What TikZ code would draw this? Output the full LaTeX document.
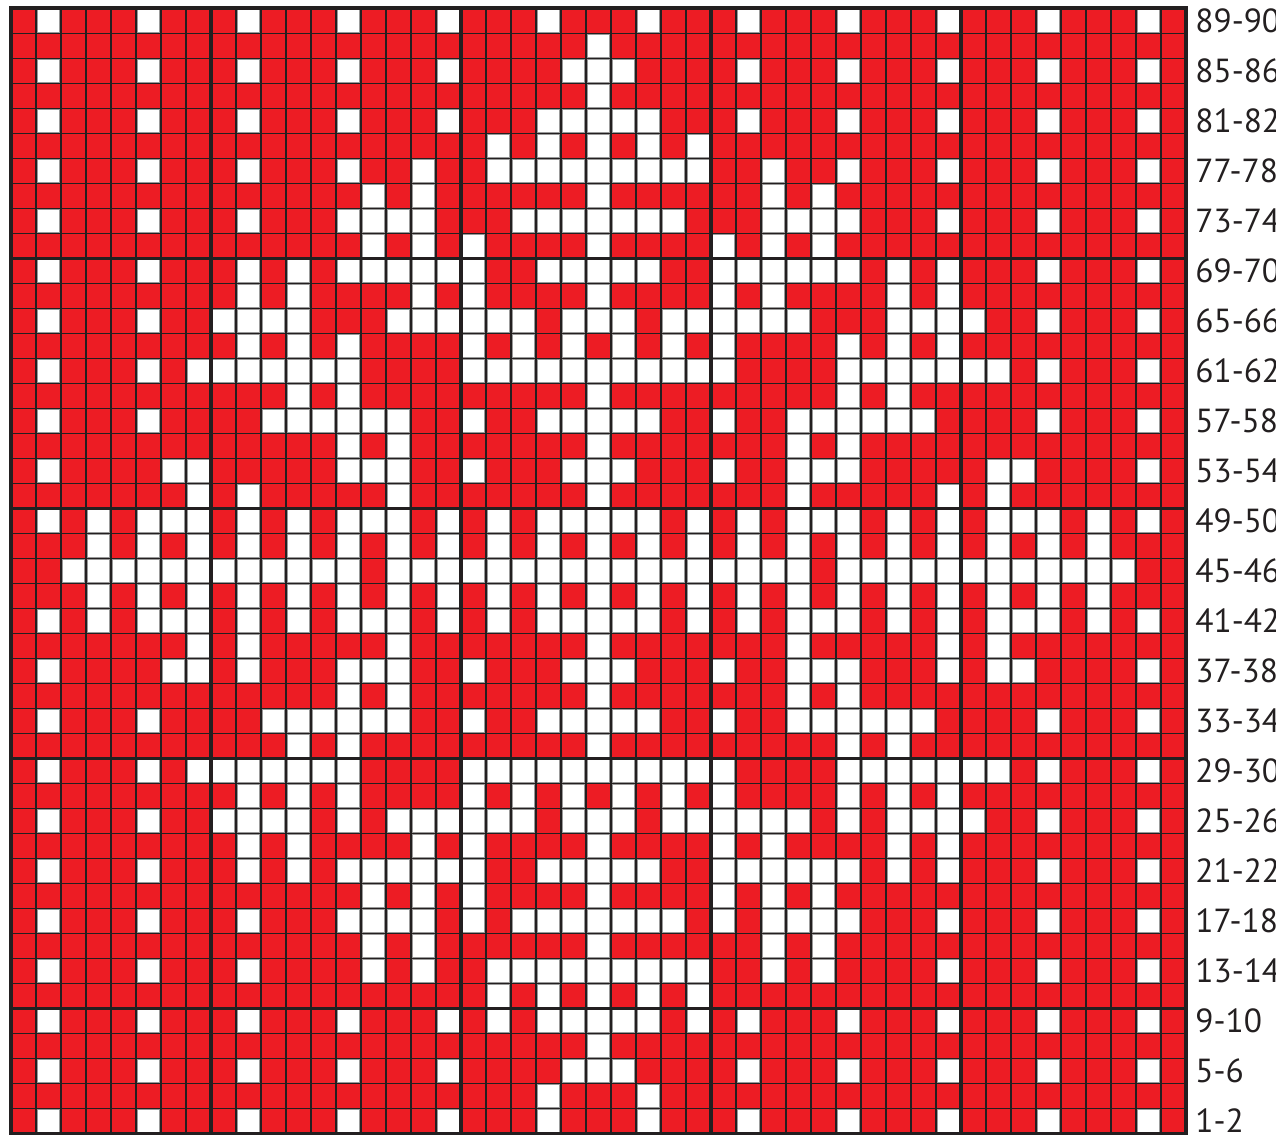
\documentclass[tikz,border=0pt]{standalone}
\usepackage{fontspec}
\setmainfont{PT Sans}
\usepackage{xcolor}
\definecolor{chartred}{HTML}{ED1C24}
\definecolor{chartline}{HTML}{231F20}

\begin{document}
\begin{tikzpicture}[x=0.5cm, y=-0.5cm,
  thinrule/.style={chartline, line width=0.8pt},
  thickrule/.style={chartline, line width=2pt},
  rowlabel/.style={anchor=west, inner sep=0pt, text=chartline, font=\fontsize{19}{21}\selectfont}]
  \useasboundingbox (-0.44,-0.33) rectangle (50.6,45.03);
  \fill[chartred] (0,0) rectangle (47,45);

  % white stitches, row by row from the top
  \foreach \r/\cs in {
    0/{1,5,9,13,17,21,25,29,33,37,41,45},
    1/{23},
    2/{1,5,9,13,17,22,23,24,29,33,37,41,45},
    3/{23},
    4/{1,5,9,13,17,21,22,23,24,25,29,33,37,41,45},
    5/{19,21,23,25,27},
    6/{1,5,9,13,16,19,20,21,22,23,24,25,26,27,30,33,37,41,45},
    7/{14,16,23,30,32},
    8/{1,5,9,13,14,15,16,20,21,22,23,24,25,26,30,31,32,33,37,41,45},
    9/{14,16,18,23,28,30,32},
    10/{1,5,9,11,13,14,15,16,17,18,21,22,23,24,25,28,29,30,31,32,33,35,37,41,45},
    11/{9,11,16,18,23,28,30,35,37},
    12/{1,5,8,9,10,11,15,16,17,18,19,20,22,23,24,26,27,28,29,30,31,35,36,37,38,41,45},
    13/{9,11,13,18,20,22,24,26,28,33,35,37},
    14/{1,5,7,8,9,10,11,12,13,18,19,20,21,22,23,24,25,26,27,28,33,34,35,36,37,38,39,41,45},
    15/{11,13,23,33,35},
    16/{1,5,10,11,12,13,14,15,18,21,22,23,24,25,28,31,32,33,34,35,36,41,45},
    17/{13,15,23,31,33},
    18/{1,6,7,13,14,15,18,22,23,24,28,31,32,33,39,40,45},
    19/{7,9,15,23,31,37,39},
    20/{1,3,5,6,7,9,11,13,14,15,17,19,21,22,23,24,25,27,29,31,32,33,35,37,39,40,41,43,45},
    21/{3,5,7,9,11,13,15,17,19,21,23,25,27,29,31,33,35,37,39,41,43},
    22/{2,3,4,5,6,7,8,9,10,11,12,13,15,16,17,18,19,20,21,22,23,24,25,26,27,28,29,30,31,33,34,35,36,37,38,39,40,41,42,43,44},
    23/{3,5,7,9,11,13,15,17,19,21,23,25,27,29,31,33,35,37,39,41,43},
    24/{1,3,5,6,7,9,11,13,14,15,17,19,21,22,23,24,25,27,29,31,32,33,35,37,39,40,41,43,45},
    25/{7,9,15,23,31,37,39},
    26/{1,6,7,9,13,14,15,18,22,23,24,28,31,32,33,37,39,40,45},
    27/{13,15,23,31,33},
    28/{1,5,10,11,12,13,14,15,18,21,22,23,24,25,28,31,32,33,34,35,36,41,45},
    29/{11,13,23,33,35},
    30/{1,5,7,8,9,10,11,12,13,18,19,20,21,22,23,24,25,26,27,28,33,34,35,36,37,38,39,41,45},
    31/{9,11,13,18,20,22,24,26,28,33,35,37},
    32/{1,5,8,9,10,11,13,15,16,17,18,19,20,22,23,24,26,27,28,29,30,31,33,35,36,37,38,41,45},
    33/{9,11,16,18,23,28,30,35,37},
    34/{1,5,9,11,13,14,15,16,17,18,21,22,23,24,25,28,29,30,31,32,33,35,37,41,45},
    35/{14,16,18,23,28,30,32},
    36/{1,5,9,13,14,15,16,18,20,21,22,23,24,25,26,28,30,31,32,33,37,41,45},
    37/{14,16,23,30,32},
    38/{1,5,9,14,16,19,20,21,22,23,24,25,26,27,30,32,37,41,45},
    39/{19,21,23,25,27},
    40/{1,5,9,13,17,19,21,22,23,24,25,27,29,33,37,41,45},
    41/{23},
    42/{1,5,9,13,17,22,23,24,29,33,37,41,45},
    43/{21,25},
    44/{1,5,9,13,17,21,25,29,33,37,41,45}}{
    \foreach \c in \cs
      \filldraw[fill=white, draw=black!40, line width=0.5pt]
        (\c+0.05,\r+0.05) rectangle (\c+0.95,\r+0.95);
  }

  \foreach \c in {1,...,46} \draw[thinrule] (\c,0) -- (\c,45);
  \foreach \r in {1,...,44} \draw[thinrule] (0,\r) -- (47,\r);
  % blocks of ten
  \foreach \c in {8,18,28,38} \draw[thickrule] (\c,0) -- (\c,45);
  \foreach \r in {10,20,30,40} \draw[thickrule] (0,\r) -- (47,\r);
  \draw[thickrule] (0,0) rectangle (47,45);

  \foreach \r [evaluate=\r as \lo using {int(89-2*\r)},
               evaluate=\r as \hi using {int(90-2*\r)}] in {0,2,...,44}
    \node[rowlabel] (lab\r) at (47.36,\r+0.5) {\lo-\hi};
\end{tikzpicture}
\end{document}
